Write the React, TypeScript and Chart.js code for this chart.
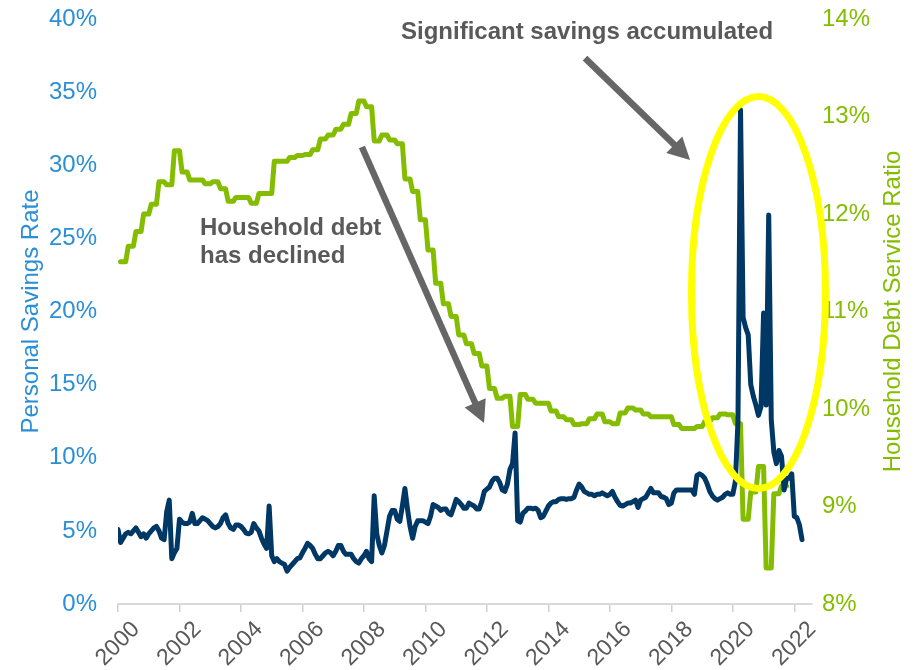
import React, { useEffect, useRef } from "react";
import { Chart, registerables } from "chart.js";

Chart.register(...registerables);

// ---------------- data ----------------
const yearLabels = ["2000", "2002", "2004", "2006", "2008", "2010", "2012", "2014", "2016", "2018", "2020", "2022"];

// Personal savings rate (%), monthly from Jan 2000
const savings2000 = [5.1, 4.2, 4.5, 4.8, 4.9, 4.8, 5.0, 5.2, 4.9, 4.6, 4.8, 4.5];
const savings2001 = [4.8, 5.0, 5.2, 5.3, 5.0, 4.5, 4.4, 6.3, 7.1, 3.1, 3.5, 3.8];
const savings2002 = [5.8, 5.6, 5.5, 5.5, 5.6, 6.2, 5.5, 5.5, 5.7, 5.9, 5.8, 5.7];
const savings2003 = [5.5, 5.3, 5.2, 5.3, 5.5, 5.9, 6.1, 5.5, 5.2, 5.1, 5.4, 5.4];
const savings2004 = [5.3, 5.1, 4.85, 4.8, 4.9, 5.5, 5.2, 5.0, 4.5, 4.1, 3.8, 6.7];
const savings2005 = [3.3, 2.9, 3.1, 2.9, 2.8, 2.7, 2.25, 2.5, 2.7, 2.9, 3.1, 3.15];
const savings2006 = [3.5, 3.8, 4.15, 4.0, 3.8, 3.4, 3.1, 3.1, 3.3, 3.5, 3.6, 3.5];
const savings2007 = [3.3, 3.6, 4.0, 4.0, 3.6, 3.4, 3.4, 3.4, 3.1, 2.9, 2.8, 3.1];
const savings2008 = [3.3, 3.6, 3.1, 2.9, 7.4, 4.8, 4.0, 3.5, 4.0, 5.0, 6.0, 6.4];
const savings2009 = [6.4, 5.8, 5.65, 6.7, 7.9, 6.5, 5.3, 4.5, 5.3, 5.7, 5.7, 5.7];
const savings2010 = [5.6, 5.5, 6.0, 6.8, 6.7, 6.6, 6.4, 6.5, 6.5, 6.2, 6.1, 6.6];
const savings2011 = [7.15, 7.0, 6.8, 6.55, 6.55, 6.9, 6.8, 6.7, 6.5, 6.5, 7.0, 7.7];
const savings2012 = [7.85, 8.0, 8.4, 8.6, 8.6, 8.3, 7.8, 7.7, 8.2, 9.2, 9.6, 11.7];
const savings2013 = [5.7, 5.6, 6.2, 6.35, 6.55, 6.55, 6.5, 6.55, 6.4, 5.9, 6.0, 6.35];
const savings2014 = [6.7, 6.9, 7.0, 7.0, 7.15, 7.2, 7.2, 7.15, 7.2, 7.2, 7.3, 7.8];
const savings2015 = [8.2, 8.0, 7.7, 7.6, 7.5, 7.5, 7.4, 7.5, 7.5, 7.6, 7.5, 7.4];
const savings2016 = [7.5, 7.7, 7.3, 7.0, 6.75, 6.7, 6.8, 6.9, 6.9, 7.0, 7.1, 6.6];
const savings2017 = [7.1, 7.2, 7.3, 7.6, 7.9, 7.6, 7.6, 7.6, 7.35, 7.3, 7.2, 6.8];
const savings2018 = [6.9, 7.6, 7.8, 7.8, 7.8, 7.8, 7.8, 7.8, 7.8, 7.5, 8.8, 8.9];
const savings2019 = [8.8, 8.6, 8.2, 7.7, 7.4, 7.2, 7.1, 7.2, 7.3, 7.5, 7.6, 7.5];
const savings2020 = [7.5, 8.4, 12.5, 33.8, 19.6, 18.9, 18.4, 15.0, 14.2, 13.6, 12.9, 13.5];
const savings2021 = [19.9, 13.6, 26.6, 12.6, 10.4, 9.6, 10.5, 10.1, 7.8, 8.6, 8.6, 8.9];
const savings2022 = [6.0, 5.9, 5.4, 4.4];

// Household debt service ratio (%), quarterly from 2000 Q1 to 2021 Q3
const debtService2000s = [
  11.51, 11.67, 11.82, 12.0, 12.1, 12.33, 12.3, 12.65,
  12.43, 12.35, 12.35, 12.31, 12.33, 12.26, 12.13, 12.17,
  12.17, 12.11, 12.21, 12.21, 12.54, 12.54, 12.58, 12.6,
  12.61, 12.66, 12.77, 12.81, 12.87, 12.92, 13.03, 13.16,
  13.1, 12.75, 12.81, 12.76, 12.72, 12.36, 12.23, 11.94,
];
const debtService2010s = [
  11.63, 11.29, 11.08, 10.95, 10.76, 10.67, 10.57, 10.44,
  10.21, 10.11, 10.13, 9.82, 10.15, 10.1, 10.06, 10.06,
  9.98, 9.92, 9.89, 9.84, 9.85, 9.9, 9.95, 9.87,
  9.85, 9.96, 10.01, 9.99, 9.95, 9.92, 9.92, 9.92,
  9.84, 9.8, 9.8, 9.82, 9.87, 9.91, 9.95, 9.94,
];
const debtService2020s = [9.85, 8.87, 9.15, 9.41, 8.37, 9.13, 9.21];

const savingsRate = [
  ...savings2000, ...savings2001, ...savings2002, ...savings2003, ...savings2004, ...savings2005,
  ...savings2006, ...savings2007, ...savings2008, ...savings2009, ...savings2010, ...savings2011,
  ...savings2012, ...savings2013, ...savings2014, ...savings2015, ...savings2016, ...savings2017,
  ...savings2018, ...savings2019, ...savings2020, ...savings2021, ...savings2022,
];
const debtServiceRatio = [...debtService2000s, ...debtService2010s, ...debtService2020s];

// ---------------- layout / style ----------------
const FONT = "'Liberation Sans', Arial, Helvetica, sans-serif";
const NAVY = "#003865";
const GREEN = "#84bd00";
const AXIS_BLUE = "#2b8fd6";
const GRAY_TEXT = "#595959";
const ARROW_GRAY = "#666666";
const MONTHS_PER_LABEL = 24;
const X_MAX = 270.9;
const QUARTER_MONTH_OFFSET = 1; // quarterly values plotted from the quarter's 2nd month
const CANVAS_W = 919;
const CANVAS_H = 670;

// annotation anchors in data units (month index, left-axis %)
const savingsNote = { text: "Significant savings accumulated", x: 183.1, y: 38.63 };
const debtNote = { lines: ["Household debt", "has declined"], x: 32.0, y: [25.23, 23.34] };
const savingsArrow = { x1: 182.3, y1: 37.33, x2: 223.3, y2: 30.36 };
const debtArrow = { x1: 95.2, y1: 31.25, x2: 142.9, y2: 12.38 };
const highlight = { cx: 250.0, cy: 21.3, rx: 26.15, ry: 13.4 };

function drawArrow(ctx: CanvasRenderingContext2D, x1: number, y1: number, x2: number, y2: number) {
  const ang = Math.atan2(y2 - y1, x2 - x1);
  const headLen = 22;
  const headHalf = 11.5;
  const c = Math.cos(ang);
  const s = Math.sin(ang);
  const bx = x2 - headLen * c;
  const by = y2 - headLen * s;
  ctx.strokeStyle = ARROW_GRAY;
  ctx.fillStyle = ARROW_GRAY;
  ctx.lineWidth = 6.5;
  ctx.lineCap = "butt";
  ctx.beginPath();
  ctx.moveTo(x1, y1);
  ctx.lineTo(bx + c, by + s);
  ctx.stroke();
  ctx.beginPath();
  ctx.moveTo(x2, y2);
  ctx.lineTo(bx + headHalf * s, by - headHalf * c);
  ctx.lineTo(bx - headHalf * s, by + headHalf * c);
  ctx.closePath();
  ctx.fill();
}

const annotationPlugin = {
  id: "annotations",
  afterDatasetsDraw(chart: any) {
    const { ctx, scales } = chart;
    const px = (m: number) => scales.x.getPixelForValue(m);
    const py = (v: number) => scales.y.getPixelForValue(v);
    ctx.save();
    // yellow ellipse
    ctx.strokeStyle = "#ffff00";
    ctx.lineWidth = 7;
    ctx.beginPath();
    ctx.ellipse(
      px(highlight.cx), py(highlight.cy),
      Math.abs(px(highlight.cx + highlight.rx) - px(highlight.cx)),
      Math.abs(py(highlight.cy + highlight.ry) - py(highlight.cy)),
      0, 0, Math.PI * 2
    );
    ctx.stroke();
    // arrows
    drawArrow(ctx, px(savingsArrow.x1), py(savingsArrow.y1), px(savingsArrow.x2), py(savingsArrow.y2));
    drawArrow(ctx, px(debtArrow.x1), py(debtArrow.y1), px(debtArrow.x2), py(debtArrow.y2));
    // text
    ctx.fillStyle = GRAY_TEXT;
    ctx.font = `bold 24px ${FONT}`;
    ctx.textBaseline = "alphabetic";
    ctx.textAlign = "center";
    ctx.fillText(savingsNote.text, px(savingsNote.x), py(savingsNote.y));
    ctx.textAlign = "left";
    debtNote.lines.forEach((line, i) => {
      ctx.fillText(line, px(debtNote.x), py(debtNote.y[i]));
    });
    ctx.restore();
  },
  afterDraw(chart: any) {
    const { ctx, chartArea, scales } = chart;
    const cy = (chartArea.top + chartArea.bottom) / 2;
    ctx.save();
    ctx.font = `24px ${FONT}`;
    ctx.textAlign = "center";
    ctx.textBaseline = "middle";
    ctx.fillStyle = AXIS_BLUE;
    ctx.translate(scales.y.left + 31, cy);
    ctx.rotate(-Math.PI / 2);
    ctx.fillText("Personal Savings Rate", 0, 0);
    ctx.restore();
    ctx.save();
    ctx.font = `24px ${FONT}`;
    ctx.textAlign = "center";
    ctx.textBaseline = "middle";
    ctx.fillStyle = GREEN;
    ctx.translate(scales.y1.right - 26, cy);
    ctx.rotate(-Math.PI / 2);
    ctx.fillText("Household Debt Service Ratio", 0, 0);
    ctx.restore();
  },
};

export default function App() {
  const ref = useRef<HTMLCanvasElement>(null);

  useEffect(() => {
    if (!ref.current) return;
    const savingsPoints = savingsRate.map((v, i) => ({ x: i, y: v }));
    const debtPoints = debtServiceRatio
      .flatMap((v) => [v, v, v])
      .map((v, i) => ({ x: i + QUARTER_MONTH_OFFSET, y: v }));

    const chart = new Chart(ref.current, {
      type: "line",
      data: {
        datasets: [
          {
            label: "Personal Savings Rate",
            data: savingsPoints,
            yAxisID: "y",
            borderColor: NAVY,
            backgroundColor: NAVY,
            borderWidth: 5,
            pointRadius: 0,
            tension: 0,
            borderCapStyle: "round",
            borderJoinStyle: "round",
          },
          {
            label: "Household Debt Service Ratio",
            data: debtPoints,
            yAxisID: "y1",
            borderColor: GREEN,
            backgroundColor: GREEN,
            borderWidth: 5,
            pointRadius: 0,
            tension: 0,
            borderCapStyle: "round",
            borderJoinStyle: "round",
          },
        ],
      },
      options: {
        responsive: false,
        animation: false,
        devicePixelRatio: 1,
        layout: { padding: { top: 19, left: 0, right: 0, bottom: 0 } },
        plugins: { legend: { display: false }, tooltip: { enabled: false } },
        scales: {
          x: {
            type: "linear",
            min: 0,
            max: X_MAX,
            afterBuildTicks: (scale: any) => {
              scale.ticks = yearLabels.map((_, i) => ({ value: i * MONTHS_PER_LABEL }));
            },
            afterFit: (scale: any) => {
              scale.height = 66;
              scale.paddingLeft = 0;
              scale.paddingRight = 0;
            },
            ticks: {
              autoSkip: false,
              minRotation: 45,
              maxRotation: 45,
              color: GRAY_TEXT,
              padding: 4,
              labelOffset: 18,
              font: { family: FONT, size: 23 },
              callback: (_v: any, i: number) => yearLabels[i] ?? "",
            },
            grid: { drawOnChartArea: false, drawTicks: true, tickLength: 8, color: "#d0d0d0", lineWidth: 1.5 },
            border: { display: true, color: "#d9d9d9", width: 2 },
          },
          y: {
            position: "left",
            min: 0,
            max: 40,
            afterFit: (scale: any) => {
              scale.width = 118;
              scale.paddingTop = 0;
              scale.paddingBottom = 0;
            },
            ticks: {
              stepSize: 5,
              color: AXIS_BLUE,
              padding: 21,
              font: { family: FONT, size: 24 },
              callback: (v: any) => `${v}%`,
            },
            grid: { display: false, drawTicks: false },
            border: { display: false },
          },
          y1: {
            position: "right",
            min: 8,
            max: 14,
            afterFit: (scale: any) => {
              scale.width = 107;
              scale.paddingTop = 0;
              scale.paddingBottom = 0;
            },
            ticks: {
              stepSize: 1,
              color: GREEN,
              padding: 10,
              font: { family: FONT, size: 24 },
              callback: (v: any) => `${v}%`,
            },
            grid: { display: false, drawTicks: false },
            border: { display: false },
          },
        },
      },
      plugins: [annotationPlugin],
    } as any);
    return () => chart.destroy();
  }, []);

  return (
    <div style={{ position: "fixed", left: 0, top: 0, width: CANVAS_W, height: CANVAS_H }}>
      <canvas ref={ref} width={CANVAS_W} height={CANVAS_H} style={{ display: "block" }} />
    </div>
  );
}
